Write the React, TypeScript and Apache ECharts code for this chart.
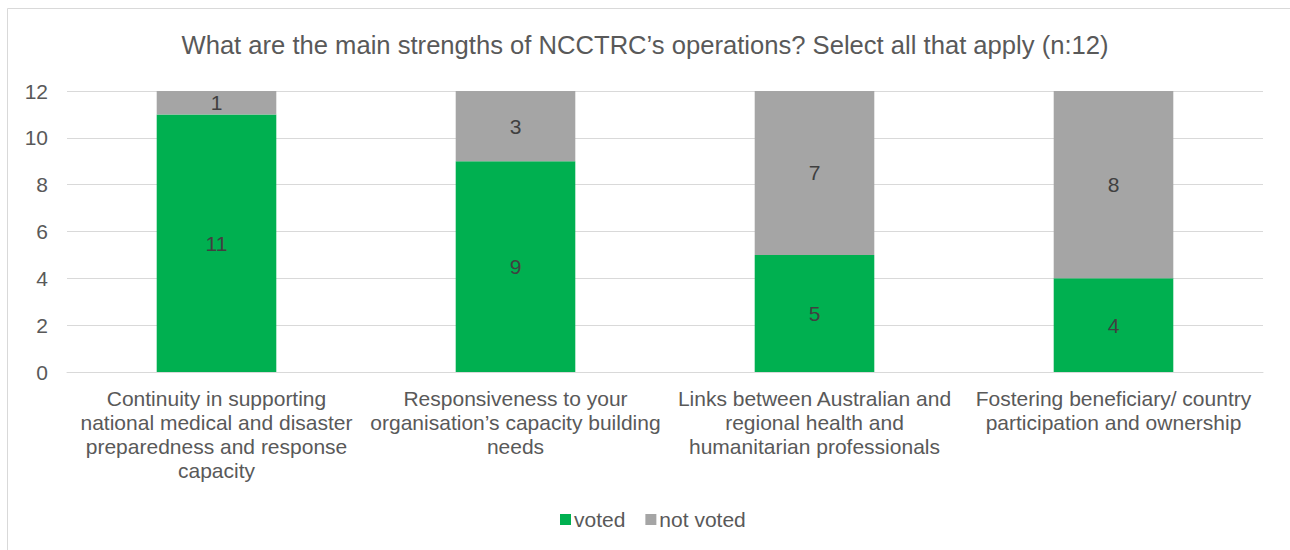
import React, { useEffect, useRef } from "react";
import * as echarts from "echarts";

const categories = [
  "Continuity in supporting\nnational medical and disaster\npreparedness and response\ncapacity",
  "Responsiveness to your\norganisation’s capacity building\nneeds",
  "Links between Australian and\nregional health and\nhumanitarian professionals",
  "Fostering beneficiary/ country\nparticipation and ownership",
];
const voted = [11, 9, 5, 4];
const notVoted = [1, 3, 7, 8];
const titleText = "What are the main strengths of NCCTRC’s operations? Select all that apply (n:12)";

export default function App() {
  const ref = useRef<HTMLDivElement>(null);
  useEffect(() => {
    if (!ref.current) return;
    const chart = echarts.init(ref.current, null, { renderer: "svg" });
    const font = "Liberation Sans, Arial, sans-serif";
    chart.setOption({
      animation: false,
      backgroundColor: "#fff",
      textStyle: { fontFamily: font },
      title: {
        text: titleText,
        left: "center",
        top: 27,
        textStyle: { fontSize: 25.6, fontWeight: "normal", color: "#595959", fontFamily: font },
      },
      graphic: [
        {
          type: "rect",
          shape: { x: 7.5, y: 8.5, width: 1320, height: 600 },
          style: { fill: "none", stroke: "#d9d9d9", lineWidth: 1 },
          silent: true,
        },
      ],
      legend: {
        bottom: 15,
        left: 555,
        itemWidth: 11,
        itemHeight: 11,
        itemGap: 20,
        icon: "rect",
        textStyle: { fontSize: 21, color: "#595959", fontFamily: font, padding: [0, 0, 0, -2] },
        data: ["voted", "not voted"],
      },
      grid: { left: 67, right: 27, top: 91, bottom: 178, containLabel: false },
      xAxis: {
        type: "category",
        data: categories,
        axisLine: { lineStyle: { color: "#d9d9d9" } },
        axisTick: { show: false },
        axisLabel: {
          interval: 0,
          fontSize: 21,
          lineHeight: 24,
          color: "#595959",
          margin: 14,
          fontFamily: font,
        },
      },
      yAxis: {
        type: "value",
        min: 0,
        max: 12,
        interval: 2,
        axisLine: { show: false },
        axisTick: { show: false },
        splitLine: { lineStyle: { color: "#d9d9d9" } },
        axisLabel: { fontSize: 21, color: "#595959", margin: 19, fontFamily: font },
      },
      series: [
        {
          name: "voted",
          type: "bar",
          stack: "a",
          data: voted,
          barWidth: "40%",
          itemStyle: { color: "#00b050" },
          label: { show: true, position: "inside", fontSize: 21, color: "#404040", fontFamily: font },
        },
        {
          name: "not voted",
          type: "bar",
          stack: "a",
          data: notVoted,
          barWidth: "40%",
          itemStyle: { color: "#a5a5a5" },
          label: { show: true, position: "inside", fontSize: 21, color: "#404040", fontFamily: font },
        },
      ],
    });
    return () => chart.dispose();
  }, []);
  return (
    <div
      ref={ref}
      style={{ position: "absolute", left: 0, top: 0, width: 1290, height: 550 }}
    />
  );
}
